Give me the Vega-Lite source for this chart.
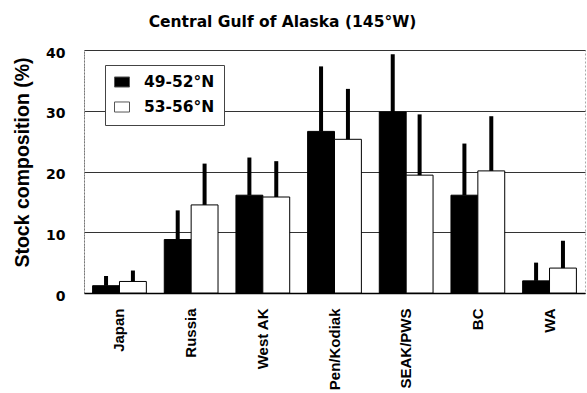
{
  "$schema": "https://vega.github.io/schema/vega-lite/v6.json",
  "width": 501,
  "height": 243,
  "autosize": "none",
  "padding": {"left": 84, "top": 50, "right": 2, "bottom": 100},
  "background": "white",
  "config": {"font": "Liberation Sans", "view": {"stroke": "#aaa", "strokeDash": [2, 2]}},
  "title": {"text": "Central Gulf of Alaska (145°W)", "font": "DejaVu Sans", "fontSize": 15.5, "fontWeight": "bold", "color": "black", "frame": "group", "anchor": "middle", "dx": -52, "offset": 16},
  "data": {
    "values": [
      {"region": "Japan", "lat": "49-52°N", "value": 1.2, "upper": 2.8},
      {"region": "Japan", "lat": "53-56°N", "value": 1.9, "upper": 3.7},
      {"region": "Russia", "lat": "49-52°N", "value": 8.8, "upper": 13.6},
      {"region": "Russia", "lat": "53-56°N", "value": 14.5, "upper": 21.3},
      {"region": "West AK", "lat": "49-52°N", "value": 16.1, "upper": 22.3},
      {"region": "West AK", "lat": "53-56°N", "value": 15.8, "upper": 21.7},
      {"region": "Pen/Kodiak", "lat": "49-52°N", "value": 26.6, "upper": 37.3},
      {"region": "Pen/Kodiak", "lat": "53-56°N", "value": 25.3, "upper": 33.6},
      {"region": "SEAK/PWS", "lat": "49-52°N", "value": 29.8, "upper": 39.3},
      {"region": "SEAK/PWS", "lat": "53-56°N", "value": 19.4, "upper": 29.4},
      {"region": "BC", "lat": "49-52°N", "value": 16.1, "upper": 24.6},
      {"region": "BC", "lat": "53-56°N", "value": 20.1, "upper": 29.1},
      {"region": "WA", "lat": "49-52°N", "value": 2.0, "upper": 5.0},
      {"region": "WA", "lat": "53-56°N", "value": 4.1, "upper": 8.6}
    ]
  },
  "encoding": {
    "x": {
      "field": "region", "type": "nominal",
      "sort": ["Japan", "Russia", "West AK", "Pen/Kodiak", "SEAK/PWS", "BC", "WA"],
      "scale": {"paddingInner": 0.25, "paddingOuter": 0.12},
      "axis": {"title": null, "labelAngle": -90, "labelFontSize": 15, "labelFontWeight": "bold", "labelColor": "black", "labelPadding": 15, "ticks": false, "tickSize": 0, "domainColor": "black", "domainWidth": 1.5}
    },
    "xOffset": {"field": "lat", "type": "nominal", "sort": ["49-52°N", "53-56°N"]}
  },
  "layer": [
    {
      "mark": {"type": "bar", "stroke": "black", "strokeWidth": 1},
      "encoding": {
        "y": {
          "field": "value", "type": "quantitative",
          "scale": {"domain": [0, 40]},
          "axis": {"title": "Stock composition (%)", "titleFontSize": 19.5, "titleFontWeight": "bold", "titleColor": "black", "titlePadding": 13, "titleY": 112, "labelFont": "DejaVu Sans", "labelFontWeight": "bold", "labelFontSize": 14, "labelColor": "black", "labelPadding": 19, "labelOffset": 3, "ticks": false, "tickSize": 0, "values": [0, 10, 20, 30, 40], "grid": true, "gridColor": "#333", "gridWidth": 1, "domainColor": "#777", "domainDash": [2, 1]}
        },
        "color": {
          "field": "lat", "type": "nominal",
          "scale": {"domain": ["49-52°N", "53-56°N"], "range": ["black", "white"]},
          "legend": {"title": null, "orient": "none", "legendX": 21, "legendY": 15, "direction": "vertical", "fillColor": "white", "strokeColor": "#444", "padding": 9, "symbolType": "M-1,-0.67H1V0.67H-1Z", "symbolSize": 225, "symbolStrokeColor": "#555", "symbolStrokeWidth": 1, "labelFont": "DejaVu Sans", "labelFontSize": 15.5, "labelFontWeight": "bold", "labelColor": "black", "labelOffset": 14, "rowPadding": 8}
        }
      }
    },
    {
      "mark": {"type": "rule", "strokeWidth": 4, "color": "black"},
      "encoding": {
        "y": {"field": "value", "type": "quantitative"},
        "y2": {"field": "upper"}
      }
    }
  ]
}
